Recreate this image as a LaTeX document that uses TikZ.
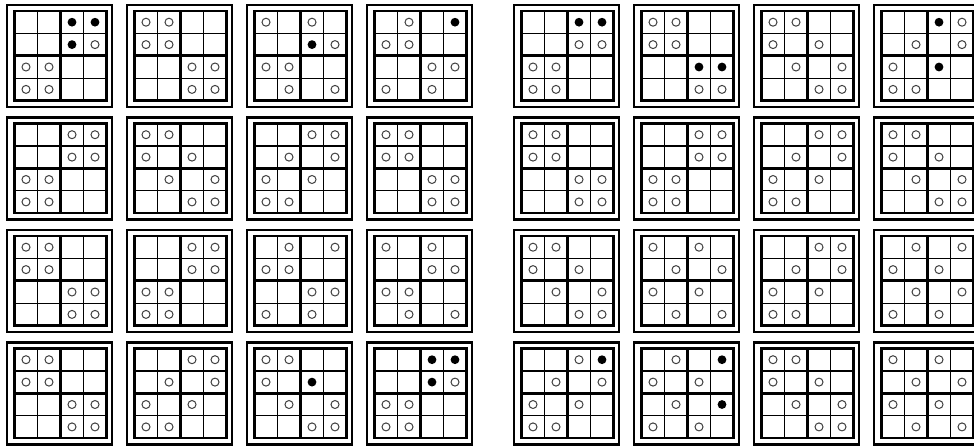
\documentclass[tikz,border=0pt]{standalone}
\usepackage{amsmath, amssymb}
\usepackage{xcolor}
\usepackage{tikz}
\usetikzlibrary{calc, positioning}

% one board: #1,#2 = top left corner, #3 = 16 cells (0 empty, 1 open, 2 filled)
\newcommand{\drawboard}[3]{%
  \begin{scope}[shift={(#1,#2)}]
    \draw[frame] (0,0) rectangle (105,102);
    \draw[frame] (7.5,6) rectangle (99.5,95.6);
    \foreach \k in {1,3} {
        \draw[thinline] (7.5+\k*23,6) -- ++(0,89.6);
        \draw[thinline] (7.5,6+\k*22.4) -- ++(92,0);
    }
    \draw[frame] (53.5,6) -- ++(0,89.6);
    \draw[frame] (7.5,50.8) -- ++(92,0);
    \foreach \v [count=\i from 0] in {#3} {
        \pgfmathtruncatemacro{\cc}{mod(\i,4)}
        \pgfmathtruncatemacro{\rr}{\i/4}
        \ifnum\v=1 \draw[stone] (19+23*\cc,17.2+22.4*\rr) circle (4); \fi
        \ifnum\v=2 \fill (19+23*\cc,17.2+22.4*\rr) circle (4.4); \fi
    }
  \end{scope}}

\begin{document}
\begin{tikzpicture}[x=1pt, y=-1pt,
    frame/.style={line width=2.7pt},
    thinline/.style={line width=1.4pt},
    stone/.style={line width=1pt, black!75}]

    \useasboundingbox (0,0) rectangle (974,447);

    % 1. Hang 1
    \drawboard{7}{5}{0,0,2,2, 0,0,2,1, 1,1,0,0, 1,1,0,0}
    \drawboard{127}{5}{1,1,0,0, 1,1,0,0, 0,0,1,1, 0,0,1,1}
    \drawboard{247}{5}{1,0,1,0, 0,0,2,1, 1,1,0,0, 0,1,0,1}
    \drawboard{367}{5}{0,1,0,2, 1,1,0,0, 0,0,1,1, 1,0,1,0}
    \drawboard{514}{5}{0,0,2,2, 0,0,1,1, 1,1,0,0, 1,1,0,0}
    \drawboard{634}{5}{1,1,0,0, 1,1,0,0, 0,0,2,2, 0,0,1,1}
    \drawboard{754}{5}{1,1,0,0, 1,0,1,0, 0,1,0,1, 0,0,1,1}
    \drawboard{874}{5}{0,0,2,1, 0,1,0,1, 1,0,2,0, 1,1,0,0}

    % 2. Hang 2
    \drawboard{7}{117.5}{0,0,1,1, 0,0,1,1, 1,1,0,0, 1,1,0,0}
    \drawboard{127}{117.5}{1,1,0,0, 1,0,1,0, 0,1,0,1, 0,0,1,1}
    \drawboard{247}{117.5}{0,0,1,1, 0,1,0,1, 1,0,1,0, 1,1,0,0}
    \drawboard{367}{117.5}{1,1,0,0, 1,1,0,0, 0,0,1,1, 0,0,1,1}
    \drawboard{514}{117.5}{1,1,0,0, 1,1,0,0, 0,0,1,1, 0,0,1,1}
    \drawboard{634}{117.5}{0,0,1,1, 0,0,1,1, 1,1,0,0, 1,1,0,0}
    \drawboard{754}{117.5}{0,0,1,1, 0,1,0,1, 1,0,1,0, 1,1,0,0}
    \drawboard{874}{117.5}{1,1,0,0, 1,0,1,0, 0,1,0,1, 0,0,1,1}

    % 3. Hang 3
    \drawboard{7}{230}{1,1,0,0, 1,1,0,0, 0,0,1,1, 0,0,1,1}
    \drawboard{127}{230}{0,0,1,1, 0,0,1,1, 1,1,0,0, 1,1,0,0}
    \drawboard{247}{230}{0,1,0,1, 1,1,0,0, 0,0,1,1, 1,0,1,0}
    \drawboard{367}{230}{1,0,1,0, 0,0,1,1, 1,1,0,0, 0,1,0,1}
    \drawboard{514}{230}{1,1,0,0, 1,0,1,0, 0,1,0,1, 0,0,1,1}
    \drawboard{634}{230}{1,0,1,0, 0,1,0,1, 1,0,1,0, 0,1,0,1}
    \drawboard{754}{230}{0,0,1,1, 0,1,0,1, 1,0,1,0, 1,1,0,0}
    \drawboard{874}{230}{0,1,0,1, 1,0,1,0, 0,1,0,1, 1,0,1,0}

    % 4. Hang 4
    \drawboard{7}{342.5}{1,1,0,0, 1,1,0,0, 0,0,1,1, 0,0,1,1}
    \drawboard{127}{342.5}{0,0,1,1, 0,1,0,1, 1,0,1,0, 1,1,0,0}
    \drawboard{247}{342.5}{1,1,0,0, 1,0,2,0, 0,1,0,1, 0,0,1,1}
    \drawboard{367}{342.5}{0,0,2,2, 0,0,2,1, 1,1,0,0, 1,1,0,0}
    \drawboard{514}{342.5}{0,0,1,2, 0,1,0,1, 1,0,1,0, 1,1,0,0}
    \drawboard{634}{342.5}{0,1,0,2, 1,0,1,0, 0,1,0,2, 1,0,1,0}
    \drawboard{754}{342.5}{1,1,0,0, 1,0,1,0, 0,1,0,1, 0,0,1,1}
    \drawboard{874}{342.5}{1,0,1,0, 0,1,0,1, 1,0,1,0, 0,1,0,1}
\end{tikzpicture}
\end{document}
